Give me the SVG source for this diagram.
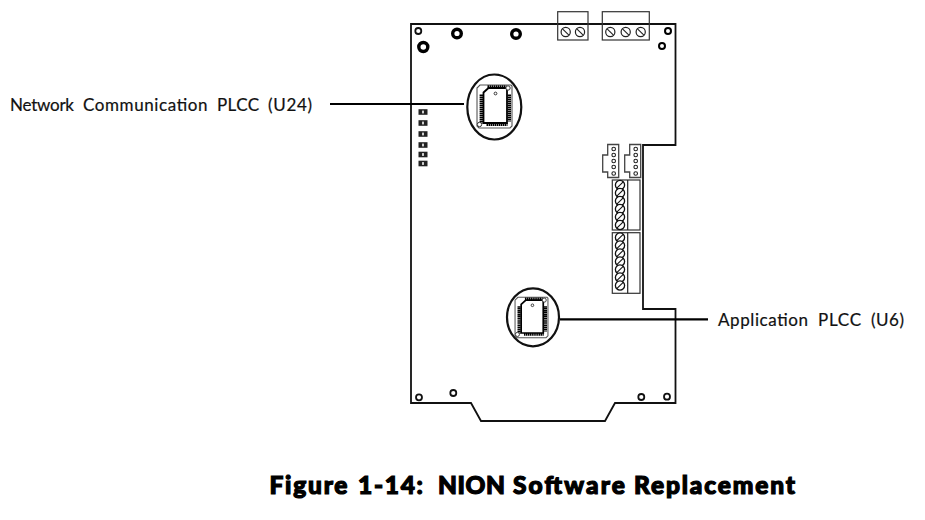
<svg xmlns="http://www.w3.org/2000/svg" width="925" height="520" viewBox="0 0 925 520">
<style>
.ln{fill:none;stroke:#111;stroke-width:1.8}
.lead{fill:none;stroke:#000;stroke-width:2.2}
.thin{fill:none;stroke:#333;stroke-width:1.2}
.thick{fill:#fff;stroke:#000;stroke-width:3.4}
.hole{fill:#fff;stroke:#111;stroke-width:1.8}
.lbl{font-family:"Lato","Liberation Sans",sans-serif;font-size:17px;fill:#111;stroke:#111;stroke-width:.2}
.ttl{font-family:"Lato","Liberation Sans",sans-serif;font-weight:900;font-size:24.5px;fill:#000;stroke:#000;stroke-width:1.2}
</style>
<defs>
<g id="screw"><circle r="4.6" fill="#fff" stroke="#222" stroke-width="1.2"/><line x1="-3.2" y1="-3.2" x2="3.2" y2="3.200" stroke="#222" stroke-width="1.100"/></g>
<g id="vscrew"><circle r="4.600" fill="#fff" stroke="#111" stroke-width="1.300"/><line x1="-3.200" y1="3.200" x2="3.200" y2="-3.200" stroke="#111" stroke-width="1.100"/></g>
<g id="sq"><rect x="-4.500" y="-2.800" width="9" height="5.600" fill="#222"/><rect x="-.8" y="-1.400" width="1.600" height="2.800" fill="#fff"/></g>
<g id="chip">
<path d="M-14.500-21.500H16.500L17.500-20.500V19.500L15.500 21.500H-15.500L-17.500 19.500V-18.500Z" fill="#fff" stroke="#555" stroke-width="1.100"/>
<path d="M-11-14L-6-18.500H12.500V16.500H-11Z" fill="none" stroke="#000" stroke-width="1.800"/>
<path d="M-13.200-12V17M14.800-12V15" fill="none" stroke="#000" stroke-width="3.400" stroke-dasharray="1.500 .5"/>
<path d="M-7-19.800H12M-8 18H13" fill="none" stroke="#000" stroke-width="3" stroke-dasharray="1.500 .5"/>
<circle cx="13.500" cy="-18.500" r="2.200" fill="#fff" stroke="#333" stroke-width="1"/>
<circle cx="-15" cy="18" r="2.200" fill="#fff" stroke="#333" stroke-width="1"/>
<circle cx="1" cy="-13" r="1.400" fill="#fff" stroke="#222" stroke-width=".9"/>
</g>
<g id="hdr">
<path d="M5-0.500H16V32.500H5V27H0V10H5Z" fill="#fff" stroke="#444" stroke-width="1.300"/>
<g fill="#fff" stroke="#222" stroke-width="1.100">
<circle cx="11" cy="4" r="1.800"/><circle cx="11" cy="10" r="1.800"/><circle cx="11" cy="16" r="1.800"/><circle cx="11" cy="22" r="1.800"/><circle cx="11" cy="28.500" r="1.800"/>
</g>
</g>
</defs>
<rect width="925" height="520" fill="#fff"/>

<g id="board">
<path class="ln" d="M411 24H675.500V145H643V309H675.500V403H615L605 421H481L471 403H411Z"/>
</g>
<g id="holes">
<circle class="hole" cx="418.300" cy="31" r="3"/>
<circle class="thick" cx="457" cy="33.500" r="4.300"/>
<circle class="thick" cx="516" cy="34" r="4.300"/>
<circle class="thick" cx="423.300" cy="47" r="4.500"/>
<circle class="thick" cx="668" cy="31" r="3" style="stroke-width:2"/>
<circle class="thick" cx="662" cy="46" r="3" style="stroke-width:2"/>
<circle class="hole" cx="419" cy="397.300" r="3"/>
<circle class="hole" cx="453.300" cy="393" r="3"/>
<circle class="hole" cx="641.300" cy="397" r="3"/>
<circle class="hole" cx="667" cy="396.700" r="3"/>
</g>
<g id="terminal-top-1">
<rect class="thin" x="557.700" y="11.700" width="30.300" height="28.300"/>
<use href="#screw" x="565.700" y="32"/><use href="#screw" x="580" y="32"/>
</g>
<g id="terminal-top-2">
<rect class="thin" x="602.300" y="11.700" width="47" height="28.300"/>
<use href="#screw" x="610.300" y="32"/><use href="#screw" x="625.700" y="32"/><use href="#screw" x="640.700" y="32"/>
</g>
<g id="leds">
<use href="#sq" x="423" y="112"/><use href="#sq" x="423" y="123"/><use href="#sq" x="423" y="134"/><use href="#sq" x="423" y="145"/><use href="#sq" x="423" y="154.500"/><use href="#sq" x="423" y="163.500"/>
</g>
<g id="header-1"><use href="#hdr" x="602.700" y="145"/></g>
<g id="header-2"><use href="#hdr" x="624.700" y="145"/></g>
<g id="terminal-side-1">
<rect class="thin" x="612.300" y="180" width="27.700" height="50"/>
<line x1="627.700" y1="180" x2="627.700" y2="230" stroke="#222" stroke-width="1.200"/>
<use href="#vscrew" x="620" y="185"/><use href="#vscrew" x="620" y="193"/><use href="#vscrew" x="620" y="201"/><use href="#vscrew" x="620" y="209"/><use href="#vscrew" x="620" y="217"/><use href="#vscrew" x="620" y="225"/>
</g>
<g id="terminal-side-2">
<rect class="thin" x="612.300" y="232.700" width="27.700" height="60.600"/>
<line x1="627.700" y1="232.700" x2="627.700" y2="293.300" stroke="#222" stroke-width="1.200"/>
<use href="#vscrew" x="620" y="237.500"/><use href="#vscrew" x="620" y="245.500"/><use href="#vscrew" x="620" y="253.500"/><use href="#vscrew" x="620" y="261.500"/><use href="#vscrew" x="620" y="269.500"/><use href="#vscrew" x="620" y="277.500"/><use href="#vscrew" x="620" y="285.500"/>
</g>
<g id="plcc-u24">
<ellipse class="ln" style="stroke-width:2.200" cx="494.300" cy="107" rx="27" ry="32.500"/>
<use href="#chip" transform="translate(494.500 106.500)"/>
</g>
<g id="plcc-u6">
<ellipse class="ln" style="stroke-width:2.200" cx="533" cy="317.300" rx="26" ry="29"/>
<use href="#chip" transform="translate(531.500 317.500) scale(.94)"/>
</g>
<g id="connectors">
<line class="lead" x1="330" y1="104" x2="464" y2="104"/>
<line class="lead" x1="560" y1="319.300" x2="708" y2="319.300"/>
</g>
<g id="labels">
<text class="lbl" x="10" y="111" textLength="64" lengthAdjust="spacing">Network</text>
<text class="lbl" x="83" y="111" textLength="124.500" lengthAdjust="spacing">Communication</text>
<text class="lbl" x="217" y="111" textLength="42" lengthAdjust="spacing">PLCC</text>
<text class="lbl" x="268" y="111" textLength="44" lengthAdjust="spacing">(U24)</text>
<text class="lbl" x="718" y="326" textLength="90" lengthAdjust="spacing">Application</text>
<text class="lbl" x="818" y="326" textLength="43" lengthAdjust="spacing">PLCC</text>
<text class="lbl" x="871" y="326" textLength="33" lengthAdjust="spacing">(U6)</text>
<text class="ttl" x="269.500" y="493.500" textLength="78" lengthAdjust="spacing">Figure</text>
<text class="ttl" x="358" y="493.500" textLength="65" lengthAdjust="spacing">1-14:</text>
<text class="ttl" x="438" y="493.500" textLength="67" lengthAdjust="spacing">NION</text>
<text class="ttl" x="513" y="493.500" textLength="112" lengthAdjust="spacing">Software</text>
<text class="ttl" x="634" y="493.500" textLength="161" lengthAdjust="spacing">Replacement</text>
</g>
</svg>
